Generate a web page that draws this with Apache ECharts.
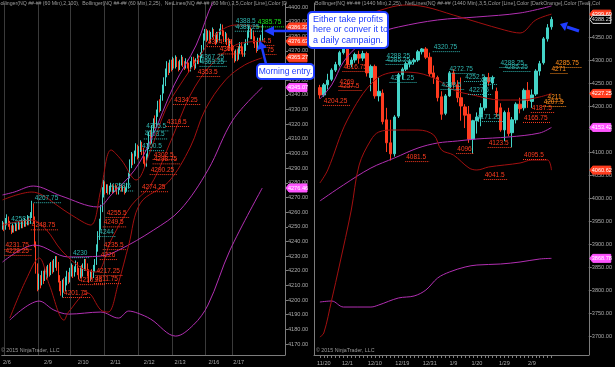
<!DOCTYPE html>
<html><head><meta charset="utf-8">
<script src="https://cdn.jsdelivr.net/npm/echarts@6/dist/echarts.min.js"></script>
<style>html,body{margin:0;padding:0;background:#000;}#c{width:615px;height:367px;}</style>
</head><body><div id="c"></div>
<script>
// ---------------- LEFT PANEL (60 min) ----------------
// [open, close, low, high]
const leftBars = [
[4250,4252,4248,4254],[4252,4249,4247,4253],[4249,4253,4248,4256],[4253,4256,4251,4258.5],[4256,4252,4250,4257],
[4252,4250,4248,4254],[4250,4247,4245,4251],[4247,4250,4246,4252],[4250,4248,4246,4251],[4248,4251,4247,4253],
[4251,4249,4247,4252],[4249,4252,4248,4254],[4252,4250,4248,4253],[4250,4253,4249,4255],[4253,4251,4249,4254],
[4251,4254,4250,4256],[4254,4252,4250,4255],[4252,4256,4251,4258],[4256,4253,4251,4257],[4253,4258,4252,4260],
[4258,4264,4256,4267.75],[4264,4255,4252,4266],[4255,4238,4236,4257],[4238,4222,4218,4240],[4222,4210,4206,4225],
[4210,4215,4207,4218],[4215,4212,4208,4217],[4212,4218,4210,4220],[4218,4214,4211,4220],[4214,4220,4213,4222],
[4220,4216,4214,4223],[4216,4222,4215,4224],[4222,4219,4216,4225],[4219,4224,4217,4226],[4224,4221,4218,4227],
[4221,4226,4219,4228],[4226,4228,4222,4230],[4228,4224,4220,4230],[4224,4215,4212,4226],[4215,4210,4206,4217],
[4210,4207,4203,4213],[4207,4212,4201.75,4214],[4212,4208,4205,4215],[4208,4213,4206,4216],[4213,4217,4210,4220],
[4217,4214,4211,4219],[4214,4219,4212,4222],[4219,4222,4216,4225],[4222,4218,4215,4224],[4218,4221,4216,4223],
[4221,4224,4219,4227],[4224,4220,4217,4226],[4220,4217,4214,4222],[4217,4221,4215,4223],[4221,4218,4215,4224],
[4218,4222,4216,4225],[4222,4226,4220,4228],[4226,4223,4220,4228],[4223,4219,4216,4225],[4219,4215,4211.75,4221],
[4215,4218,4213,4220],[4218,4217.25,4214,4221],[4217,4221,4215,4224],[4221,4226,4219,4228],[4226,4235,4224,4238],
[4235,4244,4233,4247],[4244,4250,4241,4255.5],[4250,4262,4248,4265],[4262,4274,4260,4277],[4274,4278,4270,4282],
[4278,4275,4272,4281],[4275,4277,4273,4279],[4277,4274,4272,4279],[4274,4276,4272,4278],[4276,4278,4274,4280],
[4278,4275,4273,4279],[4275,4277,4273,4278],[4277,4276,4274,4279],[4276,4274,4272,4278],[4274,4276,4272,4277],
[4276,4278,4275,4280],[4278,4275,4274,4279],[4275,4277,4274,4278],[4277,4274,4272,4278],[4274,4276,4273,4277],
[4276,4278,4274,4280],[4278,4285,4276,4287],[4285,4293,4283,4296],[4293,4298,4290,4301],[4298,4295,4292,4300],
[4295,4300,4293,4302],[4300,4304,4298,4307],[4304,4299,4296,4306],[4299,4303,4297,4305],[4303,4307,4301,4309],
[4307,4302,4299,4308],[4302,4296,4293,4304],[4296,4292,4290.25,4298],[4292,4298,4291,4300],[4298,4305,4296,4307],
[4305,4312,4303,4315],[4312,4309,4306,4316],[4309,4316,4307,4319.5],[4316,4322,4314,4324],[4322,4320,4317,4326],
[4320,4327,4318,4330],[4327,4334,4325,4336],[4334,4331,4328,4337],[4331,4338,4329,4340],[4338,4344,4336,4347],
[4344,4349,4341,4352],[4349,4355,4346,4358],[4355,4360,4352,4363],[4360,4357,4353.5,4362],[4357,4362,4355,4364],
[4362,4359,4356,4364],[4359,4363,4357,4366],[4363,4360,4358,4365],[4360,4364,4358,4367],[4364,4361,4359,4366],
[4361,4358,4356,4363],[4358,4362,4357,4364],[4362,4365,4360,4367.25],[4365,4361,4359,4366],[4361,4359,4357,4363],
[4359,4363,4358,4365],[4363,4360,4358,4364],[4360,4357,4355,4362],[4357,4361,4356,4363],[4361,4364,4359,4366],
[4364,4362,4360,4366],[4362,4359,4357,4364],[4359,4363,4358,4365],[4363,4366,4361,4368],[4366,4363,4361,4367],
[4363,4367,4362,4369],[4367,4372,4365,4374],[4372,4380,4370,4382],[4380,4383,4377,4385],[4383,4379,4376,4385],
[4379,4382,4377,4384],[4382,4378,4375,4384],[4378,4381,4376,4383],[4381,4384,4379,4386],[4384,4380,4378,4385],
[4380,4377,4374,4382],[4377,4381,4375,4383],[4381,4379,4376,4383],[4379,4383,4377,4385.25],[4383,4386,4381,4388.5],
[4386,4382,4380,4388],[4382,4378,4376,4384],[4378,4381,4376,4383],[4381,4377,4374,4382],[4377,4373,4370,4379],
[4373,4376,4371,4378],[4376,4372,4369.75,4378],[4372,4368,4365,4374],[4368,4365,4362,4370],[4365,4369,4363,4371],
[4369,4366,4363,4371],[4366,4370,4364,4373],[4370,4374,4368,4376],[4374,4371,4368,4376],[4371,4368,4366,4373],
[4368,4372,4366,4375],[4372,4376,4370,4378],[4376,4381,4374,4384],[4381,4385,4379,4387],[4385,4380,4378,4386],
[4380,4383,4378,4385],[4383,4378,4375,4384],[4378,4375,4372,4380],[4375,4372,4368.75,4377],[4372,4377,4370,4379],
[4377,4374.5,4372,4379],[4374.5,4379,4373,4381],[4379,4387.75,4377,4388]
];
const leftSlots = 193;
const leftSessionStarts = [2,25,47,70,93,116,139,157];
const leftDateIdx = [3,31,55,77,100,121,144,161];
const leftDateText = ['2/6','2/9','2/10','2/11','2/12','2/13','2/16','2/17'];
const leftYTicks = [4170,4180,4190,4200,4210,4220,4230,4240,4250,4260,4270,4280,4290,4300,4310,4320,4330,4340,4350,4360,4370,4380,4390,4400];
// Bollinger(2,100) – magenta  [barIndex, price]
const leftBB100Upper = [[0,4271.7],[8.3,4273.7],[21.2,4277.8],[40.1,4271],[65.2,4263.5],[74,4271.7],[89.5,4288.7],[101,4309],[116.6,4346.8],[131.5,4374],[143.7,4404.8],[162,4432],[177,4453]];
const leftBB100Mid = [[0,4225.9],[21.8,4237.5],[44.9,4229.4],[67.2,4230],[78.7,4234],[103.1,4247.8],[121.4,4261.4],[139.6,4288.7],[157.3,4322.9],[177,4345.07]];
const leftBB100Lower = [[4.9,4186.3],[24.5,4199.3],[35.4,4193.2],[44.9,4190.4],[67.2,4191.8],[79.4,4187.7],[85.5,4192.5],[92.3,4191.1],[101,4187],[118,4175.4],[130.2,4182.9],[139.6,4196.6],[155.2,4234],[177,4276.46]];
// Bollinger(2,25) – dark red
const leftBB25Upper = [[0,4268.3],[19.8,4273.7],[26.6,4271.7],[36.7,4264.8],[46.9,4258],[60.4,4251.2],[67.2,4275.1],[74,4302.4],[80.7,4295.6],[90.9,4281.9],[101,4302.4],[111.2,4329.7],[121.4,4346.8],[134.9,4367.2],[145.1,4380.9],[158.6,4387.7],[177,4386.33]];
const leftBB25Mid = [[0,4251.2],[19.8,4254.6],[30,4247.8],[40.1,4234.1],[53.7,4221.8],[63.8,4219.1],[74,4240.9],[87.5,4264.8],[101,4278.5],[114.6,4309.2],[128.1,4339.9],[141.7,4360.4],[158.6,4374.1],[177,4376.63]];
const leftBB25Lower = [[4.9,4187.7],[16.4,4213.7],[25.2,4228.7],[32,4210.2],[41.5,4186.3],[44.9,4191.8],[58.4,4204.8],[67.2,4193.2],[72,4191.8],[78.7,4211.6],[86.2,4237.5],[94.3,4266.2],[112.6,4280.5],[128.1,4304.4],[138.3,4329.7],[151.8,4350.2],[165.4,4360.4],[177,4365.27]];
// NetLines labels [barIndex, price, text, colour]
const leftLabels = [
[6,4255.5,'4258.5','t'],[22,4269.5,'4267.75','t'],[48,4232,'4230','t'],[66,4246.4,'4244','t'],
[74,4277.5,'4288.5','t'],[95,4305,'4300.5','t'],[97,4313,'4303.5','t'],[98,4318.5,'4305.5','t'],
[135,4362.5,'4363.25','t'],[135,4366,'4367.25','t'],[159,4390,'4388.5','t'],[159,4386.5,'4385.25','t'],
[174,4389.5,'4385.75','g'],
[2,4237.5,'4231.75','r'],[2,4233.5,'4228.25','r'],[20,4251,'4248.75','r'],[42,4204.8,'4201.75','r'],
[64,4219.8,'4217.25','r'],[63,4214.3,'4211.75','r'],[52,4213.6,'4210.25','r'],[71,4259.4,'4255.5','r'],
[69,4253,'4249.5','r'],[69,4237.5,'4235.5','r'],[67,4230.7,'4226','r'],[95,4277,'4274.25','r'],
[101,4288.7,'4290.25','r'],[103,4299,'4302.5','r'],[103,4296,'4298.75','r'],[112,4321.5,'4319.5','r'],
[117,4336.5,'4334.25','r'],[133,4355.6,'4353.5','r'],[140,4376,'4374.75','r'],[148,4371,'4369.75','r'],
[177,4376.8,'4.5','r'],[180,4370.6,'75','r']
];
// axis price markers [price, text, background]
const leftTags = [[4386.33,'4386.33','#ff3c1e'],[4376.63,'4376.63','#ff3c1e'],[4365.27,'4365.27','#ff3c1e'],[4345.07,'4345.07','#ff55ff'],[4276.46,'4276.46','#ff55ff']];

// ---------------- RIGHT PANEL (daily) ----------------
const rightDates = ['11/19','11/20','11/21','11/24','11/25','11/26','11/28','12/1','12/2','12/3','12/4','12/5','12/8','12/9','12/10','12/11','12/12','12/15','12/16','12/17','12/18','12/19','12/22','12/23','12/24','12/26','12/29','12/30','12/31','1/2','1/5','1/6','1/7','1/8','1/9','1/12','1/13','1/14','1/15','1/16','1/20','1/21','1/22','1/23','1/26','1/27','1/28','1/29','1/30','2/2','2/3','2/4','2/5','2/6','2/9','2/10','2/11','2/12','2/13','2/17'];
const rightBars = [
[4240,4224,4216,4246],[4224,4246,4220,4250],[4246,4256,4236,4270],[4258,4278,4254,4282],[4278,4290,4274,4296],
[4290,4316,4286,4320],[4316,4338,4312,4346],[4334,4290,4282,4338],[4290,4300,4284,4306],[4300,4312,4294,4316],
[4312,4304,4292,4320],[4304,4314,4298,4320],[4314,4272,4264,4318],[4262,4286,4232,4290],[4286,4222,4216,4290],
[4222,4232,4210,4262],[4228,4166,4160,4236],[4170,4120,4100,4196],[4120,4096,4081.5,4170],[4096,4176,4090,4180],
[4178,4268,4174,4272],[4268,4280,4258,4284],[4280,4292,4276,4296],[4292,4296,4284,4302],[4296,4300,4290,4304],
[4300,4318,4296,4322],[4318,4324,4312,4326],[4324,4306,4302,4328],[4306,4270,4264,4316],[4272,4262,4248,4288],
[4262,4218,4210,4266],[4220,4182,4170,4232],[4184,4222,4180,4226],[4222,4272,4220,4276],[4272,4246,4238,4280],
[4246,4218,4208,4256],[4218,4200,4168,4262],[4198,4180,4152,4204],[4182,4128,4120,4200],[4128,4168,4096,4170],
[4168,4176,4140,4186],[4176,4196,4156,4206],[4196,4262,4190,4266],[4262,4252,4244,4272],[4250,4262,4236,4266],
[4232,4186,4176,4240],[4196,4148,4144,4206],[4148,4186,4123.5,4190],[4186,4140,4134,4196],[4142,4170,4110,4176],
[4170,4204,4162,4208],[4204,4194,4184,4218],[4196,4234,4190,4238],[4234,4212,4196,4252],[4210,4224,4196,4236],
[4226,4276,4222,4280],[4276,4292,4266,4298],[4294,4346,4290,4350],[4346,4370,4340,4378],[4372,4388.25,4366,4394]
];
const rightLeadSlots = 1, rightSlots = 70;
const rightDateLabels = ['11/20','12/1','12/10','12/19','12/31','1/9','1/20','1/29','2/9'];
const rightYTicks = [3700,3750,3800,3850,3900,3950,4000,4050,4100,4150,4200,4250,4300,4350];
// [dayIndex, price]
const rightBB100Upper = [[0,4215.2],[2.5,4245.7],[6.3,4295.7],[10.1,4332.6],[15.2,4358.7],[20.2,4371.7],[30.3,4387],[40.4,4393.5],[50.5,4402.2],[59,4417.4]];
const rightBB100Mid = [[0,3993.5],[6.3,4028.3],[12.6,4065.2],[18.9,4087],[25.3,4108.7],[30.3,4119.6],[35.4,4123.9],[40.4,4128.3],[48,4132.6],[55.6,4141.3],[59,4153.42]];
const rightBB100Lower = [[0,3773.9],[2.5,3776.1],[6.3,3763],[12.6,3763],[15.2,3767.4],[20.2,3782.6],[24,3787],[26.5,3800],[30.3,3826.1],[32.8,3839.1],[36.6,3850],[40.4,3854.3],[45.5,3856.5],[50.5,3860.9],[55.6,3867.4],[59,3868.78]];
const rightBB25Upper = [[0,4332.6],[7.1,4387],[13.1,4402.2],[21.5,4419.6],[26.5,4415.2],[34.1,4397.8],[46.7,4365.2],[51,4358.7],[55,4387],[59,4399.7]];
const rightBB25Mid = [[0,4032.6],[1.8,4060.9],[7.1,4169.6],[14.4,4256.5],[20.2,4273.9],[25.3,4271.7],[30.3,4256.5],[34.1,4234.8],[39.1,4223.9],[45.5,4213],[50.5,4213],[55.6,4219.6],[59,4227.25]];
const rightBB25Lower = [[0,3697.8],[1.3,3706.5],[3.3,3778.3],[5.1,3854.3],[7.6,3973.9],[10.1,4071.7],[12.6,4126.1],[14.6,4143.5],[18.9,4147.8],[25.3,4147.8],[29,4137],[30.8,4104.3],[34.1,4093.5],[37.9,4065.2],[39.9,4060.9],[42.9,4067.4],[46.7,4071.7],[50.5,4076.1],[54.3,4082.6],[57.6,4082.6],[59,4060.62]];
const rightLabels = [
[28.5,4328,'4320.75','t'],[16.9,4308.7,'4288.25','t'],[16.9,4300,'4285.25','t'],[18.4,4260.9,'4271.25','t'],
[32.8,4280.4,'4272.75','t'],[36.6,4263,'4252.5','t'],[41.4,4256.5,'4247','t'],[37.9,4234.8,'4227.5','t'],
[31,4245.7,'4238.5','t'],[46.2,4293.5,'4288.25','t'],[46.7,4284.8,'4285.25','t'],[39.6,4176,'4171.25','t'],
[6.3,4284.8,'4316.75','r'],[5,4252.2,'4269','r'],[5,4243.5,'4257.5','r'],[1.3,4211,'4204.25','r'],
[21.5,4089,'4081.5','r'],[35.4,4106.5,'4096','r'],[42.9,4119.6,'4123.5','r'],[41.7,4050,'4041.5','r'],
[52.3,4093.5,'4095.5','r'],[52.3,4174,'4165.75','r'],[53.8,4195.7,'4187.5','r'],
[59.8,4293.5,'4285.75','o'],[58.8,4280.4,'4271','o'],[58,4219.6,'4211','o'],[57.3,4208.7,'4207.5','o']
];
const rightTags = [[4399.69,'4399.69','#ff3c1e'],[4388.25,'4388.25','#000000','#dddddd'],[4227.25,'4227.25','#ff3c1e'],[4153.42,'4153.42','#ff55ff'],[4060.62,'4060.62','#ff3c1e'],[3868.78,'3868.78','#ff55ff']];

// ---------------- STYLE ----------------
const UP = '#44d4c8', DOWN = '#ff3b1f';
const MAG = '#b22fb2', DRED = '#a31010';
const LBLCOL = {t:'#2fb5b0', r:'#ff3b1f', o:'#ff8c1a', g:'#19e619'};
const AXC = '#7c7c7c', TXT = '#a9a9a9';
const FONT = 'Liberation Sans, Arial, sans-serif';

const chart = echarts.init(document.getElementById('c'), null, {renderer:'canvas', width:615, height:367});

function lineS(xi, data, color, shift){
  return {type:'line', xAxisIndex:xi, yAxisIndex:xi, data:data.map(d=>[d[0]+shift, d[1]]),
    smooth:0.35, showSymbol:false, symbol:'none', silent:true, z:3,
    lineStyle:{color:color, width:1}};
}
function labelS(xi, labels, shift){
  return {type:'custom', xAxisIndex:xi, yAxisIndex:xi, clip:true, silent:true, z:4,
    data: labels.map(l=>[l[0]+shift, l[1]]),
    renderItem:(params, api)=>{
      const l = labels[params.dataIndex];
      const p = api.coord([api.value(0), api.value(1)]);
      const c = LBLCOL[l[3]];
      const w = l[2].length*3.35 + 3;
      return {type:'group', children:[
        {type:'text', x:p[0], y:p[1], style:{text:l[2], fill:c, font:'6.5px '+FONT, align:'left', verticalAlign:'middle', textAlign:'left', textVerticalAlign:'middle'}},
        {type:'line', shape:{x1:p[0]-1, y1:p[1]+4.5, x2:p[0]+w, y2:p[1]+4.5}, style:{stroke:c, lineWidth:1, lineDash:[1,1]}}
      ]};
    }};
}
function tagS(xi, tags){
  return {type:'custom', xAxisIndex:xi, yAxisIndex:xi, clip:false, silent:true, z:30,
    data: tags.map(t=>[0, t[0]]),
    renderItem:(params, api)=>{
      const t = tags[params.dataIndex];
      const y = api.coord([0, api.value(1)])[1];
      const cs = params.coordSys; const x0 = cs.x + cs.width + 1;
      const w = 21, h = 8;
      return {type:'group', children:[
        {type:'polygon', shape:{points:[[x0,y],[x0+3,y-h/2],[x0+w,y-h/2],[x0+w,y+h/2],[x0+3,y+h/2]]}, style:{fill:t[2], stroke:t[3]||t[2], lineWidth:1}},
        {type:'text', x:x0+3+(w-3)/2, y:y, style:{text:t[1], fill:t[3]||'#ffffff', font:'5.6px '+FONT, align:'center', verticalAlign:'middle', textAlign:'center', textVerticalAlign:'middle'}}
      ]};
    }};
}

const leftCats = Array.from({length:leftSlots}, (_, i)=>String(i));
const rightCats = Array.from({length:rightSlots}, (_, i)=>String(i));
const rightLabelIdx = rightDateLabels.map(d=>rightDates.indexOf(d)+rightLeadSlots);
const rightBarsPadded = Array(rightLeadSlots).fill('-').concat(rightBars);

const yCommon = (min, max, ticks, pos)=>({
  type:'value', position:pos, min:min, max:max, scale:true,
  axisLine:{show:true, lineStyle:{color:AXC, width:1}},
  axisTick:{show:true, customValues:ticks, length:3, lineStyle:{color:AXC}},
  axisLabel:{show:true, customValues:ticks, formatter:v=>v.toFixed(2), color:TXT, fontSize:5.6, fontFamily:FONT, margin:3},
  splitLine:{show:false}
});

const option = {
  backgroundColor:'#000000',
  animation:false,
  grid:[
    {left:0, top:3, width:285, height:352},
    {left:314, top:3, width:277, height:352}
  ],
  xAxis:[
    {type:'category', gridIndex:0, data:leftCats, boundaryGap:true,
     axisLine:{show:true, lineStyle:{color:AXC}}, axisTick:{show:false},
     axisLabel:{show:true, interval:(i)=>leftDateIdx.includes(i), formatter:(v, i)=>{const k=leftDateIdx.indexOf(i); return k>=0?leftDateText[k]:'';}, color:TXT, fontSize:5.6, fontFamily:FONT, margin:4},
     splitLine:{show:true, interval:(i)=>leftSessionStarts.includes(i), lineStyle:{color:'#3a3a3a', width:1}}},
    {type:'category', gridIndex:1, data:rightCats, boundaryGap:true,
     axisLine:{show:true, lineStyle:{color:AXC}},
     axisTick:{show:true, alignWithLabel:true, interval:(i)=>i>=rightLeadSlots && i<rightLeadSlots+rightDates.length, length:3, lineStyle:{color:AXC}},
     axisLabel:{show:true, interval:(i)=>rightLabelIdx.includes(i), formatter:(v, i)=>rightDates[i-rightLeadSlots]||'', color:TXT, fontSize:5.6, fontFamily:FONT, margin:5},
     splitLine:{show:false}}
  ],
  yAxis:[
    Object.assign(yCommon(4162.5, 4402.7, leftYTicks, 'right'), {gridIndex:0}),
    Object.assign(yCommon(3658.7, 4423.9, rightYTicks, 'right'), {gridIndex:1}),
    {type:'value', gridIndex:1, position:'left', min:3658.7, max:4423.9, axisLine:{show:true, lineStyle:{color:AXC}}, axisTick:{show:false}, axisLabel:{show:false}, splitLine:{show:false}}
  ],
  series:[
    {type:'candlestick', xAxisIndex:0, yAxisIndex:0, data:leftBars, barWidth:1, silent:true, z:2,
     itemStyle:{color:UP, color0:DOWN, borderColor:UP, borderColor0:DOWN, borderWidth:1}},
    lineS(0, leftBB100Upper, MAG, 0), lineS(0, leftBB100Mid, MAG, 0), lineS(0, leftBB100Lower, MAG, 0),
    lineS(0, leftBB25Upper, DRED, 0), lineS(0, leftBB25Mid, DRED, 0), lineS(0, leftBB25Lower, DRED, 0),
    labelS(0, leftLabels, 0),
    tagS(0, leftTags),
    {type:'candlestick', xAxisIndex:1, yAxisIndex:1, data:rightBarsPadded, barWidth:3, silent:true, z:2,
     itemStyle:{color:UP, color0:DOWN, borderColor:UP, borderColor0:DOWN, borderWidth:1}},
    lineS(1, rightBB100Upper, MAG, rightLeadSlots), lineS(1, rightBB100Mid, MAG, rightLeadSlots), lineS(1, rightBB100Lower, MAG, rightLeadSlots),
    lineS(1, rightBB25Upper, DRED, rightLeadSlots), lineS(1, rightBB25Mid, DRED, rightLeadSlots), lineS(1, rightBB25Lower, DRED, rightLeadSlots),
    labelS(1, rightLabels, rightLeadSlots),
    tagS(1, rightTags)
  ],
  graphic:[
    {type:'text', x:-3, y:1, z:50, style:{text:'Bollinger(NQ ##-## (60 Min),2,100),  Bollinger(NQ ##-## (60 Min),2,25),  NetLines(NQ ##-## (60 Min),3,5,Color [Line],Color [D', fill:'#9c9c9c', font:'5.2px '+FONT}},
    {type:'text', x:315, y:1, z:50, style:{text:'Bollinger(NQ ##-## (1440 Min),2,25),  NetLines(NQ ##-## (1440 Min),3,5,Color [Line],Color [DarkOrange],Color [Teal],Col', fill:'#9c9c9c', font:'5.3px '+FONT}},
    {type:'text', x:1, y:348, z:50, style:{text:'© 2015 NinjaTrader, LLC', fill:'#9c9c9c', font:'5.3px '+FONT}},
    {type:'text', x:316, y:348, z:50, style:{text:'© 2015 NinjaTrader, LLC', fill:'#9c9c9c', font:'5.3px '+FONT}},
    // callout 1
    {type:'line', z:60, shape:{x1:309, y1:31, x2:271, y2:31}, style:{stroke:'#1f3cff', lineWidth:2.5}},
    {type:'polygon', z:60, shape:{points:[[264,31],[274,26],[274,36]]}, style:{fill:'#1f3cff'}},
    {type:'rect', z:61, shape:{x:308, y:12, width:80, height:36, r:4}, style:{fill:'#ffffff', stroke:'#1f3cff', lineWidth:2}},
    {type:'text', z:62, x:313, y:14, style:{text:'Either take profits\nhere or conver it to\na daily campaign.', fill:'#1f3cff', font:'9px '+FONT, lineHeight:10.5}},
    // callout 2
    {type:'line', z:60, shape:{x1:266, y1:64, x2:262, y2:48}, style:{stroke:'#1f3cff', lineWidth:2.5}},
    {type:'polygon', z:60, shape:{points:[[260,41],[267,47.5],[257,50]]}, style:{fill:'#1f3cff'}},
    {type:'rect', z:61, shape:{x:257, y:64, width:57, height:15, r:4}, style:{fill:'#ffffff', stroke:'#1f3cff', lineWidth:2}},
    {type:'text', z:62, x:285.5, y:71.5, style:{text:'Morning entry.', fill:'#1f3cff', font:'8.5px '+FONT, align:'center', verticalAlign:'middle'}},
    // right arrow
    {type:'line', z:60, shape:{x1:579, y1:31, x2:567, y2:27}, style:{stroke:'#1f3cff', lineWidth:3}},
    {type:'polygon', z:60, shape:{points:[[560,24],[568,22],[565,31]]}, style:{fill:'#1f3cff'}}
  ]
};
chart.setOption(option);
</script>
</body></html>
